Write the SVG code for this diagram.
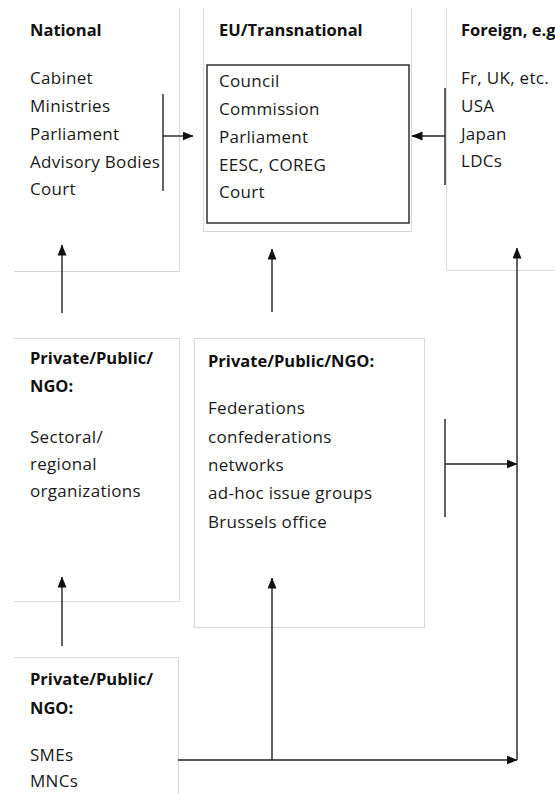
<svg xmlns="http://www.w3.org/2000/svg" width="555" height="794" viewBox="0 0 555 794">
  <defs>
    <marker id="arrow" markerUnits="userSpaceOnUse" markerWidth="11" markerHeight="10" refX="10.5" refY="4.5" orient="auto">
      <path d="M0,0 L11,4.5 L0,9 z" fill="#111"/>
    </marker>
    <style>
      .frame { fill: none; stroke: #dadada; stroke-width: 1; }
      .inner { fill: none; stroke: #222; stroke-width: 1.4; }
      .head { font-family: "Open Sans", "DejaVu Sans", sans-serif; font-weight: bold; font-size: 16.5px; fill: #111; }
      .item { font-family: "Open Sans", "DejaVu Sans", sans-serif; font-size: 17px; letter-spacing: 0.3px; fill: #1a1a1a; }
      .link { fill: none; stroke: #222; stroke-width: 1.4; }
      .arrowed { marker-end: url(#arrow); }
    </style>
  </defs>

  <rect width="555" height="794" fill="#fff"/>

  <!-- National -->
  <g id="national">
    <path class="frame" d="M179.5,8 V271.5 H14"/>
    <text class="head" x="30" y="36">National</text>
    <text class="item" x="30" y="84">Cabinet</text>
    <text class="item" x="30" y="112">Ministries</text>
    <text class="item" x="30" y="140">Parliament</text>
    <text class="item" x="30" y="168">Advisory Bodies</text>
    <text class="item" x="30" y="195">Court</text>
  </g>

  <!-- EU / transnational -->
  <g id="eu">
    <path class="frame" d="M203.5,8 V231.5 H411.5 V8"/>
    <rect class="inner" x="207" y="65" width="202" height="158"/>
    <text class="head" x="219" y="36">EU/Transnational</text>
    <text class="item" x="219" y="87">Council</text>
    <text class="item" x="219" y="115">Commission</text>
    <text class="item" x="219" y="143">Parliament</text>
    <text class="item" x="219" y="171">EESC, COREG</text>
    <text class="item" x="219" y="198">Court</text>
  </g>

  <!-- Foreign -->
  <g id="foreign">
    <path class="frame" d="M446.5,8 V270.5 H555"/>
    <text class="head" x="461" y="36">Foreign, e.g</text>
    <text class="item" x="461" y="84">Fr, UK, etc.</text>
    <text class="item" x="461" y="112">USA</text>
    <text class="item" x="461" y="140">Japan</text>
    <text class="item" x="461" y="167">LDCs</text>
  </g>

  <!-- Sectoral / regional -->
  <g id="sectoral">
    <path class="frame" d="M14,338.5 H179.5 V601.5 H14"/>
    <text class="head" x="30" y="364">Private/Public/</text>
    <text class="head" x="30" y="392">NGO:</text>
    <text class="item" x="30" y="443">Sectoral/</text>
    <text class="item" x="30" y="470">regional</text>
    <text class="item" x="30" y="497">organizations</text>
  </g>

  <!-- Federations -->
  <g id="federations">
    <rect class="frame" x="194.5" y="338.5" width="230" height="289"/>
    <text class="head" x="208" y="367">Private/Public/NGO:</text>
    <text class="item" x="208" y="414">Federations</text>
    <text class="item" x="208" y="443">confederations</text>
    <text class="item" x="208" y="471">networks</text>
    <text class="item" x="208" y="499">ad-hoc issue groups</text>
    <text class="item" x="208" y="528">Brussels office</text>
  </g>

  <!-- SMEs / MNCs -->
  <g id="firms">
    <path class="frame" d="M14,657.5 H178.5 V794"/>
    <text class="head" x="30" y="685">Private/Public/</text>
    <text class="head" x="30" y="714">NGO:</text>
    <text class="item" x="30" y="761">SMEs</text>
    <text class="item" x="30" y="787">MNCs</text>
  </g>

  <g id="connectors">
    <!-- national bracket into EU -->
    <line class="link" x1="163" y1="94" x2="163" y2="191"/>
    <line class="link arrowed" x1="163" y1="136" x2="193" y2="136"/>
    <!-- foreign bracket into EU -->
    <line class="link" x1="445" y1="88" x2="445" y2="185"/>
    <line class="link arrowed" x1="445" y1="136" x2="412" y2="136"/>
    <!-- upward links -->
    <line class="link arrowed" x1="62" y1="313" x2="62" y2="245"/>
    <line class="link arrowed" x1="272" y1="312" x2="272" y2="249"/>
    <line class="link arrowed" x1="62" y1="646" x2="62" y2="577"/>
    <line class="link arrowed" x1="272" y1="760" x2="272" y2="578"/>
    <!-- federations bracket to right trunk -->
    <line class="link" x1="445" y1="419" x2="445" y2="517"/>
    <line class="link arrowed" x1="445" y1="464" x2="517" y2="464"/>
    <!-- bottom feed and right trunk -->
    <line class="link arrowed" x1="178" y1="760" x2="517" y2="760"/>
    <line class="link arrowed" x1="517" y1="760" x2="517" y2="248"/>
  </g>
</svg>
